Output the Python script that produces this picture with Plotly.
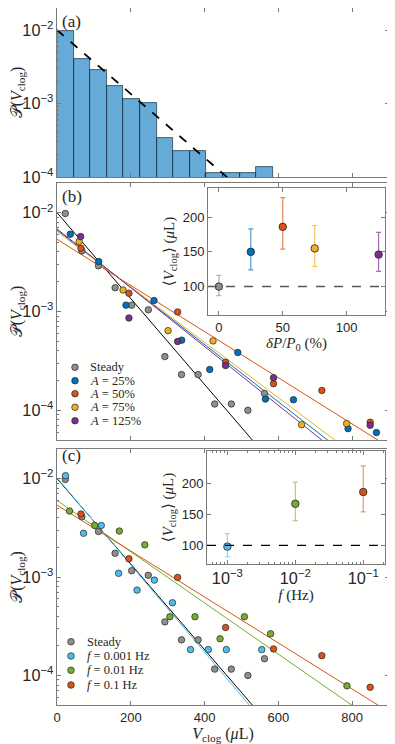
import plotly.graph_objects as go

# ---- data ----
# (a) histogram of steady clog volumes, bin width 45 uL
hist_x = [22.5, 67.5, 112.5, 157.5, 202.5, 247.5, 292.5, 337.5, 382.5, 427.5, 472.5, 517.5, 562.5]
hist_p = [0.0098, 0.0040, 0.00289, 0.00171, 0.00115, 0.00103, 0.00034, 0.000227, 0.000227,
          0.000113, 0.000113, 0.000113, 0.000137]
hist_width = 45

# steady points (same bins)
steady_x = hist_x
steady_p = [0.0098, 0.0041, 0.0029, 0.00174, 0.00116, 0.00104, 0.00035, 0.00023, 0.00023,
            0.000116, 0.000116, 0.0001, 0.000148]

# (b) pressure amplitude series
a25_x = [36, 113, 187, 263, 338, 414, 490, 565, 641, 789, 866]
a25_p = [0.00605, 0.0032, 0.00116, 0.00129, 0.000513, 0.000259, 0.000385, 0.00013, 0.000128, 0.0000653, 0.0000596]
a50_x = [65, 195, 327, 457, 587, 718, 849]
a50_p = [0.00436, 0.00153, 0.00099, 0.000307, 0.000186, 0.000159, 0.0000758]
a75_x = [60, 179, 301, 423, 663, 785]
a75_p = [0.0051, 0.00165, 0.00064, 0.000504, 0.0000716, 0.0000734]
a125_x = [64, 195, 327, 457, 587, 849]
a125_p = [0.00573, 0.00086, 0.000497, 0.000284, 0.000214, 0.0000706]

# (c) frequency series (f = 0.1 Hz is the A = 50% run)
f001_x = [23, 72, 120, 167, 217, 264, 313, 362, 410, 459, 555]
f001_p = [0.0107, 0.00278, 0.00334, 0.00109, 0.000736, 0.00093, 0.000548, 0.000183, 0.000183, 0.000183, 0.000183]
f01_x = [34, 102, 169, 238, 306, 374, 442, 508, 579, 786]
f01_p = [0.00468, 0.00334, 0.00293, 0.00212, 0.000395, 0.000395, 0.000236, 0.000395, 0.000265, 0.0000785]
f1_x = a50_x
f1_p = a50_p

# exponential fits, end points at V = 0 and V = 900 uL
fit_x = [0, 900]
fit_steady = [0.01, 1.23e-6]
fit_a25 = [0.00667, 1.65e-5]
fit_a50 = [0.00538, 4.26e-5]
fit_a75 = [0.00645, 1.94e-5]
fit_a125 = [0.00685, 1.44e-5]
fit_f001 = [0.0102, 1.05e-6]
fit_f01 = [0.00599, 2.73e-5]

# insets: mean clog volume with error bars
dp_x = [0, 25, 50, 75, 125]
dp_mean = [100, 150, 186, 155, 146]
dp_up = [16, 33, 42, 33, 32]
dp_down = [13, 26, 32, 26, 24]
f_x = [0.001, 0.01, 0.1]
f_mean = [98, 167, 186]
f_up = [21, 35, 42]
f_down = [16, 27, 32]
steady_mean = 100

GRAY = "#8f8f8f"
BLUE = "#0072BD"
ORANGE = "#D95319"
YELLOW = "#EDB120"
PURPLE = "#7E2F8E"
GREEN = "#77AC30"
LBLUE = "#4DBEEE"

SERIF = "Liberation Serif, DejaVu Serif, serif"
SANS = "Liberation Sans, Arial, sans-serif"
AXC = "#7a7a7a"
TXT = "#262626"

# page sits 8px in from the corner (body margin), so figure is 8px smaller
W, H = 387, 736
ML, MR, MT, MB = 49, 6, 0, 39
PW, PH = W - ML - MR, H - MT - MB


def rgba(hexc, a):
    h = hexc.lstrip("#")
    return "rgba(%d,%d,%d,%s)" % (int(h[0:2], 16), int(h[2:4], 16), int(h[4:6], 16), a)


def px(xp, yp):
    # page pixel -> paper coords
    return (xp - 8 - ML) / PW, (H + 8 - MB - yp) / PH


fig = go.Figure()

# (a)
fig.add_trace(go.Bar(x=hist_x, y=hist_p, width=hist_width, xaxis="x", yaxis="y",
                     marker=dict(color=rgba(BLUE, 0.6), line=dict(color="rgba(20,40,60,0.85)", width=0.8)),
                     showlegend=False))
fig.add_trace(go.Scatter(x=fit_x, y=fit_steady, mode="lines", xaxis="x", yaxis="y",
                         line=dict(color="black", width=1.8, dash="dash"), showlegend=False))

# (b)
b_series = [
    ("Steady", steady_x, steady_p, fit_steady, GRAY, "black"),
    ("<i>A</i> = 25%", a25_x, a25_p, fit_a25, BLUE, BLUE),
    ("<i>A</i> = 50%", a50_x, a50_p, fit_a50, ORANGE, ORANGE),
    ("<i>A</i> = 75%", a75_x, a75_p, fit_a75, YELLOW, YELLOW),
    ("<i>A</i> = 125%", a125_x, a125_p, fit_a125, PURPLE, PURPLE),
]
for name, xs, ps, fit, col, lcol in b_series:
    fig.add_trace(go.Scatter(x=fit_x, y=fit, mode="lines", xaxis="x2", yaxis="y2",
                             line=dict(color=lcol, width=1), showlegend=False))
for name, xs, ps, fit, col, lcol in b_series:
    fig.add_trace(go.Scatter(x=xs, y=ps, mode="markers", name=name, xaxis="x2", yaxis="y2",
                             marker=dict(color=col, size=6.5, line=dict(color="#222", width=0.7)),
                             showlegend=False))

# (c)
c_series = [
    ("Steady", steady_x, steady_p, fit_steady, GRAY, "black"),
    ("<i>f</i> = 0.001 Hz", f001_x, f001_p, fit_f001, LBLUE, LBLUE),
    ("<i>f</i> = 0.01 Hz", f01_x, f01_p, fit_f01, GREEN, GREEN),
    ("<i>f</i> = 0.1 Hz", f1_x, f1_p, fit_a50, ORANGE, ORANGE),
]
for name, xs, ps, fit, col, lcol in c_series:
    fig.add_trace(go.Scatter(x=fit_x, y=fit, mode="lines", xaxis="x3", yaxis="y3",
                             line=dict(color=lcol, width=1), showlegend=False))
for name, xs, ps, fit, col, lcol in c_series:
    fig.add_trace(go.Scatter(x=xs, y=ps, mode="markers", name=name, xaxis="x3", yaxis="y3",
                             marker=dict(color=col, size=6.5, line=dict(color="#222", width=0.7)),
                             showlegend=False))

# inset (b)
for i, col in enumerate([GRAY, BLUE, ORANGE, YELLOW, PURPLE]):
    fig.add_trace(go.Scatter(x=[dp_x[i]], y=[dp_mean[i]], mode="markers", xaxis="x4", yaxis="y4",
                             marker=dict(color=col, size=7.5, line=dict(color="#222", width=0.8)),
                             error_y=dict(type="data", array=[dp_up[i]], arrayminus=[dp_down[i]],
                                          color=rgba(col, 0.7), thickness=1.2, width=2.5),
                             showlegend=False))

# inset (c)
for i, col in enumerate([LBLUE, GREEN, ORANGE]):
    fig.add_trace(go.Scatter(x=[f_x[i]], y=[f_mean[i]], mode="markers", xaxis="x5", yaxis="y5",
                             marker=dict(color=col, size=7.5, line=dict(color="#222", width=0.8)),
                             error_y=dict(type="data", array=[f_up[i]], arrayminus=[f_down[i]],
                                          color=rgba(col, 0.6), thickness=1.2, width=2.5),
                             showlegend=False))

# hand-placed legends (marker circle + label)
shapes = [
    dict(type="line", xref="x4 domain", yref="y4", x0=0, x1=1, y0=steady_mean, y1=steady_mean,
         line=dict(color="#555", width=1.4, dash="dash")),
    dict(type="line", xref="x5 domain", yref="y5", x0=0, x1=1, y0=steady_mean, y1=steady_mean,
         line=dict(color="black", width=1.4, dash="dash")),
]
annotations = []
legend_b = dict(mx=75, tx=88, ys=[367.3, 380.7, 393.7, 407.3, 420.7], series=b_series)
legend_c = dict(mx=71, tx=85, ys=[641.7, 656, 670.3, 685], series=c_series)
for lg in (legend_b, legend_c):
    for yy, s in zip(lg["ys"], lg["series"]):
        mx, my = px(lg["mx"], yy)
        tx, _ = px(lg["tx"], yy)
        shapes.append(dict(type="circle", xref="paper", yref="paper", xsizemode="pixel", ysizemode="pixel",
                           xanchor=mx, yanchor=my, x0=-3.3, x1=3.3, y0=-3.3, y1=3.3,
                           fillcolor=s[4], line=dict(color="#222", width=0.7)))
        annotations.append(dict(text=s[0], xref="paper", yref="paper", x=tx, y=my,
                                xanchor="left", yanchor="middle", showarrow=False,
                                font=dict(family=SERIF, size=12.5, color=TXT)))

for lab, (lx, ly) in [("(a)", (60, 21)), ("(b)", (60, 197)), ("(c)", (60, 455))]:
    ax_, ay_ = px(lx, ly)
    annotations.append(dict(text=lab, xref="paper", yref="paper", x=ax_, y=ay_, xanchor="left",
                            yanchor="middle", showarrow=False,
                            font=dict(family=SERIF, size=17, color=TXT)))

tickfont = dict(family=SANS, size=13, color=TXT)
common = dict(showgrid=False, zeroline=False, showline=True, linecolor=AXC, linewidth=1,
              mirror="ticks", ticks="inside", ticklen=4, tickcolor=AXC, tickfont=tickfont,
              automargin=False)

ylog = dict(type="log", dtick=1, exponentformat="power", showexponent="all",
            minor=dict(ticks="inside", ticklen=2, tickcolor=AXC),
            title=dict(text="𝒫(<i>V</i><sub>clog</sub>)", font=dict(family=SERIF, size=16, color=TXT),
                       standoff=4))
xmain = dict(range=[0, 900], tickvals=[0, 200, 400, 600, 800])


def ydom(top, bottom):
    return [px(0, bottom)[1], px(0, top)[1]]


def xdom(left, right):
    return [px(left, 0)[0], px(right, 0)[0]]


yD_a = ydom(8, 177)
yD_b = ydom(183, 440)
yD_c = ydom(449, 705)

fig.update_layout(
    width=W, height=H,
    margin=dict(l=ML, r=MR, t=MT, b=MB),
    paper_bgcolor="white", plot_bgcolor="rgb(255,255,254)",
    barmode="overlay", bargap=0, showlegend=False,
    xaxis=dict(common, **xmain, domain=[0, 1], anchor="y", showticklabels=False),
    yaxis=dict(common, **ylog, range=[-4, -1.7], domain=yD_a, anchor="x"),
    xaxis2=dict(common, **xmain, domain=[0, 1], anchor="y2", showticklabels=False),
    yaxis2=dict(common, **ylog, range=[-4.3, -1.7], domain=yD_b, anchor="x2"),
    xaxis3=dict(common, **xmain, domain=[0, 1], anchor="y3",
                title=dict(text="<i>V</i><sub>clog</sub> (<i>μ</i>L)",
                           font=dict(family=SERIF, size=16, color=TXT), standoff=2)),
    yaxis3=dict(common, **ylog, range=[-4.3, -1.7], domain=yD_c, anchor="x3"),
    xaxis4=dict(common, range=[-8.5, 130], tickvals=[0, 50, 100], domain=xdom(208, 385), anchor="y4",
                title=dict(text="<i>δP</i>/<i>P</i><sub>0</sub> (%)",
                           font=dict(family=SERIF, size=15, color=TXT), standoff=2)),
    yaxis4=dict(common, range=[59, 242], tickvals=[100, 150, 200], domain=ydom(188, 315), anchor="x4",
                title=dict(text="⟨<i>V</i><sub>clog</sub>⟩ (<i>μ</i>L)",
                           font=dict(family=SERIF, size=15, color=TXT), standoff=4)),
    xaxis5=dict(common, type="log", range=[-3.3, -0.68], dtick=1, exponentformat="power",
                minor=dict(ticks="inside", ticklen=2, tickcolor=AXC),
                domain=xdom(207, 385), anchor="y5",
                title=dict(text="<i>f</i> (Hz)", font=dict(family=SERIF, size=15, color=TXT),
                           standoff=2)),
    yaxis5=dict(common, range=[70, 252], tickvals=[100, 150, 200], domain=ydom(451, 564), anchor="x5",
                title=dict(text="⟨<i>V</i><sub>clog</sub>⟩ (<i>μ</i>L)",
                           font=dict(family=SERIF, size=15, color=TXT), standoff=4)),
    shapes=shapes,
    annotations=annotations,
)

fig.write_html("out.html")
